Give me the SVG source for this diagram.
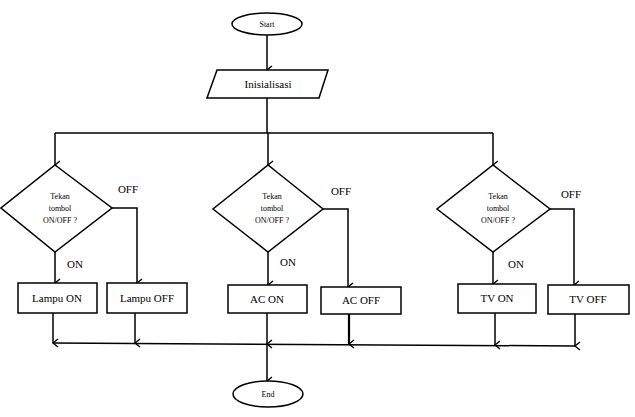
<svg xmlns="http://www.w3.org/2000/svg" width="635" height="417" viewBox="0 0 635 417">
<defs>
<marker id="ah" markerWidth="10" markerHeight="10" refX="5" refY="8" orient="auto" markerUnits="userSpaceOnUse" viewBox="0 0 10 10">
<path d="M1,3 L5,8 L9,3" fill="none" stroke="#000" stroke-width="1.4"/>
</marker>
</defs>
<style>
.s{fill:#fff;stroke:#000;stroke-width:1.5}
.c{fill:none;stroke:#000;stroke-width:1.5}
.t{font-family:"Liberation Serif","Times New Roman",serif;fill:#000;text-anchor:middle}
.b{font-size:11px}
.d{font-size:8px}
.l{font-size:11px}
</style>
<rect width="635" height="417" fill="#fff"/>
<g id="connectors">
<path class="c" d="M267,35 V70" marker-end="url(#ah)"/>
<path class="c" d="M267,98 V133 M55,133 H493"/>
<path class="c" d="M55,133 V165" marker-end="url(#ah)"/>
<path class="c" d="M268,133 V165" marker-end="url(#ah)"/>
<path class="c" d="M493,133 V165" marker-end="url(#ah)"/>
<path class="c" d="M55,252 V283" marker-end="url(#ah)"/>
<path class="c" d="M112,208 H137 V283" marker-end="url(#ah)"/>
<path class="c" d="M268,252 V285" marker-end="url(#ah)"/>
<path class="c" d="M323,209 H348 V287" marker-end="url(#ah)"/>
<path class="c" d="M493,252 V284" marker-end="url(#ah)"/>
<path class="c" d="M550,209 H574 V285" marker-end="url(#ah)"/>
<path class="c" d="M53,313 V343" marker-end="url(#ah)"/>
<path class="c" d="M135,313 V343" marker-end="url(#ah)"/>
<path class="c" d="M267,313 V344" marker-end="url(#ah)"/>
<path class="c" d="M349,314 V344" marker-end="url(#ah)" style="stroke-width:2.2"/>
<path class="c" d="M495,313 V345" marker-end="url(#ah)"/>
<path class="c" d="M575,314 V346" marker-end="url(#ah)"/>
<path class="c" d="M53,343 L575,346"/>
<path class="c" d="M267,344 V381" marker-end="url(#ah)"/>
<text class="t l" x="128" y="193">OFF</text>
<text class="t l" x="75" y="268">ON</text>
<text class="t l" x="341" y="195">OFF</text>
<text class="t l" x="288" y="266">ON</text>
<text class="t l" x="571" y="198">OFF</text>
<text class="t l" x="516" y="268">ON</text>
</g>
<g id="start">
<ellipse class="s" cx="267" cy="24" rx="35" ry="11"/>
<text class="t d" x="267" y="27">Start</text>
</g>
<g id="init">
<polygon class="s" points="217,70 328,70 319,98 207,98"/>
<text class="t b" x="268" y="88">Inisialisasi</text>
</g>
<g id="dec1">
<polygon class="s" points="55,165 112,208 55,252 1,208"/>
<text class="t d" x="60" y="199">Tekan</text>
<text class="t d" x="60" y="211">tombol</text>
<text class="t d" x="60" y="223">ON/OFF ?</text>
</g>
<g id="dec2">
<polygon class="s" points="268,165 323,209 268,252 213,209"/>
<text class="t d" x="272" y="199">Tekan</text>
<text class="t d" x="272" y="211">tombol</text>
<text class="t d" x="272" y="223">ON/OFF ?</text>
</g>
<g id="dec3">
<polygon class="s" points="493,165 550,209 493,252 437,209"/>
<text class="t d" x="498" y="199">Tekan</text>
<text class="t d" x="498" y="211">tombol</text>
<text class="t d" x="498" y="223">ON/OFF ?</text>
</g>
<g id="lampu-on">
<rect class="s" x="18" y="283" width="79" height="30"/>
<text class="t b" x="57" y="302">Lampu ON</text>
</g>
<g id="lampu-off">
<rect class="s" x="107" y="283" width="80" height="30"/>
<text class="t b" x="147" y="302">Lampu OFF</text>
</g>
<g id="ac-on">
<rect class="s" x="228" y="285" width="79" height="28"/>
<text class="t b" x="267" y="303">AC ON</text>
</g>
<g id="ac-off">
<rect class="s" x="321" y="287" width="80" height="27"/>
<text class="t b" x="361" y="304">AC OFF</text>
</g>
<g id="tv-on">
<rect class="s" x="458" y="284" width="78" height="29"/>
<text class="t b" x="497" y="302">TV ON</text>
</g>
<g id="tv-off">
<rect class="s" x="548" y="285" width="81" height="29"/>
<text class="t b" x="588" y="303">TV OFF</text>
</g>
<g id="end">
<ellipse class="s" cx="268" cy="394" rx="35" ry="13"/>
<text class="t d" x="268" y="397">End</text>
</g>
</svg>
